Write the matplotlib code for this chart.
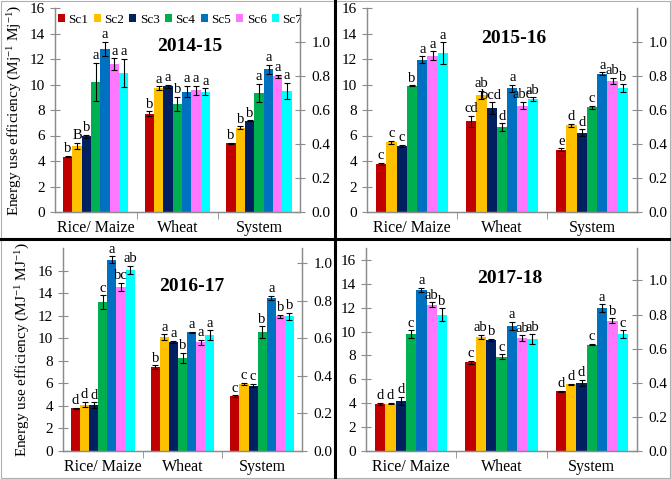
import matplotlib
matplotlib.use("Agg")
import matplotlib.pyplot as plt
from matplotlib.lines import Line2D
from matplotlib.patches import Rectangle
import numpy as np

plt.rcParams['font.family'] = ['Liberation Serif', 'DejaVu Serif']
plt.rcParams['mathtext.fontset'] = 'custom'
plt.rcParams['mathtext.rm'] = 'Liberation Serif'
plt.rcParams['mathtext.it'] = 'Liberation Serif:italic'
plt.rcParams['mathtext.bf'] = 'Liberation Serif:bold'

crops = ['Rice/ Maize', 'Wheat', 'System']
scenarios = ['Sc1', 'Sc2', 'Sc3', 'Sc4', 'Sc5', 'Sc6', 'Sc7']
colors = ['#C00000', '#FFC000', '#002060', '#00B050', '#0070C0', '#FF77FF', '#00FFFF']

# rows = crops, columns = Sc1..Sc7
eue_1415 = [[4.35, 5.2, 5.95, 10.2, 12.8, 11.6, 10.9],
            [7.7, 9.7, 9.85, 8.5, 9.45, 9.55, 9.45],
            [5.4, 6.6, 7.15, 9.35, 11.2, 10.65, 9.5]]
err_1415 = [[0.05, 0.25, 0.12, 1.5, 0.55, 0.45, 1.1],
            [0.2, 0.15, 0.15, 0.55, 0.45, 0.35, 0.25],
            [0.03, 0.12, 0.05, 0.7, 0.35, 0.12, 0.65]]
let_1415 = [['b', 'B', 'b', 'a', 'a', 'a', 'a'],
            ['b', 'a', 'a', 'b', 'a', 'a', 'a'],
            ['b', 'b', 'b', 'a', 'a', 'a', 'a']]

eue_1516 = [[3.75, 5.47, 5.18, 9.9, 11.95, 12.25, 12.45],
            [7.1, 9.2, 8.15, 6.65, 9.7, 8.35, 8.85],
            [4.87, 6.8, 6.23, 8.2, 10.85, 10.28, 9.72]]
err_1516 = [[0.1, 0.1, 0.08, 0.04, 0.25, 0.35, 0.85],
            [0.45, 0.3, 0.45, 0.3, 0.3, 0.3, 0.15],
            [0.12, 0.1, 0.25, 0.15, 0.1, 0.25, 0.3]]
let_1516 = [['c', 'c', 'c', 'b', 'a', 'a', 'a'],
            ['cd', 'ab', 'bcd', 'd', 'a', 'abc', 'ab'],
            ['e', 'd', 'd', 'c', 'a', 'ab', 'b']]

eue_1617 = [[3.77, 4.12, 4.07, 13.2, 16.95, 14.58, 16.05],
            [7.45, 10.1, 9.66, 8.25, 10.52, 9.63, 10.25],
            [4.86, 5.97, 5.8, 10.55, 13.58, 11.93, 11.93]]
err_1617 = [[0.08, 0.25, 0.25, 0.6, 0.3, 0.35, 0.35],
            [0.15, 0.25, 0.1, 0.45, 0.05, 0.2, 0.45],
            [0.07, 0.08, 0.15, 0.5, 0.15, 0.15, 0.3]]
let_1617 = [['d', 'd', 'd', 'c', 'a', 'bc', 'ab'],
            ['b', 'a', 'a', 'b', 'a', 'a', 'a'],
            ['c', 'c', 'c', 'b', 'a', 'b', 'b']]

eue_1718 = [[3.92, 3.97, 4.2, 9.8, 13.48, 12.25, 11.4],
            [7.42, 9.57, 9.3, 7.9, 10.48, 9.43, 9.38],
            [5.0, 5.6, 5.73, 8.9, 11.97, 10.92, 9.8]]
err_1718 = [[0.1, 0.05, 0.35, 0.3, 0.2, 0.2, 0.55],
            [0.12, 0.15, 0.12, 0.2, 0.35, 0.25, 0.4],
            [0.05, 0.05, 0.25, 0.05, 0.3, 0.2, 0.3]]
let_1718 = [['d', 'd', 'd', 'c', 'a', 'ab', 'b'],
            ['c', 'ab', 'b', 'c', 'a', 'ab', 'ab'],
            ['d', 'd', 'd', 'c', 'a', 'b', 'c']]

W, H = 671, 479
GREY = '#8c8c8c'


def panel(fig, box, values, errors, letters, title, title_xy,
          ymax, ymax_right, ylabel=None, legend=False):

    left, top, right, bottom = box
    ax = fig.add_axes([left / W, 1 - bottom / H, (right - left) / W, (bottom - top) / H])
    ax.set_facecolor('none')

    values = np.array(values)
    errors = np.array(errors)
    n = len(scenarios)
    width = 0.8 / n
    x = np.arange(len(crops))

    for j in range(n):
        pos = x + (j - (n - 1) / 2) * width
        ax.bar(pos, values[:, j], width, color=colors[j], label=scenarios[j],
               yerr=errors[:, j], error_kw=dict(ecolor='black', elinewidth=0.8,
                                                capsize=2, capthick=0.8))
        for i in range(len(crops)):
            ax.annotate(letters[i][j], (pos[i], values[i, j] + errors[i, j]),
                        xytext=(0, 0.5), textcoords='offset points',
                        ha='center', va='bottom', fontsize=10.5)

    ax.set_xlim(-0.5, len(crops) - 0.5)
    ax.set_ylim(0, ymax)
    ax.set_yticks(np.arange(0, 17, 2))
    ax.set_xticks(x)
    ax.set_xticklabels(crops, fontsize=11.5)
    ax.set_xticks(x[:-1] + 0.5, minor=True)
    ax.tick_params(axis='x', which='major', length=0, pad=6)
    ax.tick_params(axis='x', which='minor', direction='out', length=5, color=GREY)
    ax.tick_params(axis='y', direction='inout', length=7, color=GREY, labelsize=11)

    for s in ('left', 'bottom', 'right'):
        ax.spines[s].set_color(GREY)
        ax.spines[s].set_linewidth(0.9)
    ax.spines['top'].set_visible(False)

    ax2 = ax.twinx()
    ax2.set_ylim(0, ymax_right)
    ax2.set_yticks(np.arange(0, 1.01, 0.2))
    ax2.set_yticklabels([f'{v:.1f}' for v in np.arange(0, 1.01, 0.2)])
    ax2.tick_params(axis='y', direction='inout', length=7, color=GREY, labelsize=11, pad=5)
    for s in ('left', 'bottom', 'right'):
        ax2.spines[s].set_color(GREY)
        ax2.spines[s].set_linewidth(0.9)
    ax2.spines['top'].set_visible(False)

    ax.text(title_xy[0], title_xy[1], title, transform=ax.transAxes,
            ha='center', va='center', fontsize=14, fontweight='bold')

    if ylabel:
        ax.set_ylabel(ylabel, fontsize=11, labelpad=4)

    if legend:
        ax.legend(loc='upper center', bbox_to_anchor=(0.51, 1.01), ncol=n,
                  frameon=False, fontsize=9.5, handlelength=0.55, handleheight=0.55,
                  handletextpad=0.25, columnspacing=0.4, borderaxespad=0.2)

    return ax


def main():

    fig = plt.figure(figsize=(W / 100, H / 100), dpi=100)

    panel(fig, (55, 8, 300, 212), eue_1415, err_1415, let_1415, '2014-15', (0.55, 0.81),
          16, 1.2, ylabel=r'Energy use efficiency (Mj$^{\mathrm{-1}}$ Mj$^{\mathrm{-1}}$)',
          legend=True)
    panel(fig, (367, 8, 637, 212), eue_1516, err_1516, let_1516, '2015-16', (0.545, 0.85),
          16, 1.2)
    panel(fig, (63, 248, 302, 451), eue_1617, err_1617, let_1617, '2016-17', (0.54, 0.81),
          18, 1.08, ylabel=r'Energy use efficiency (MJ$^{\mathrm{-1}}$ MJ$^{\mathrm{-1}}$)')
    panel(fig, (366, 248, 637, 451), eue_1718, err_1718, let_1718, '2017-18', (0.53, 0.85),
          17, 1.19)

    # panel frames
    fig.add_artist(Rectangle((1 / W, 1 / H), 1 - 2 / W, 1 - 2 / H, transform=fig.transFigure,
                             fill=False, edgecolor='#b0b0b0', lw=0.8))
    fig.add_artist(Line2D([335 / W, 335 / W], [0, 1], transform=fig.transFigure,
                          color='black', lw=2.2))
    fig.add_artist(Line2D([0, 1], [1 - 239 / H, 1 - 239 / H], transform=fig.transFigure,
                          color='black', lw=2.2))

    fig.savefig('out.png', dpi=100)


if __name__ == "__main__":

    main()
